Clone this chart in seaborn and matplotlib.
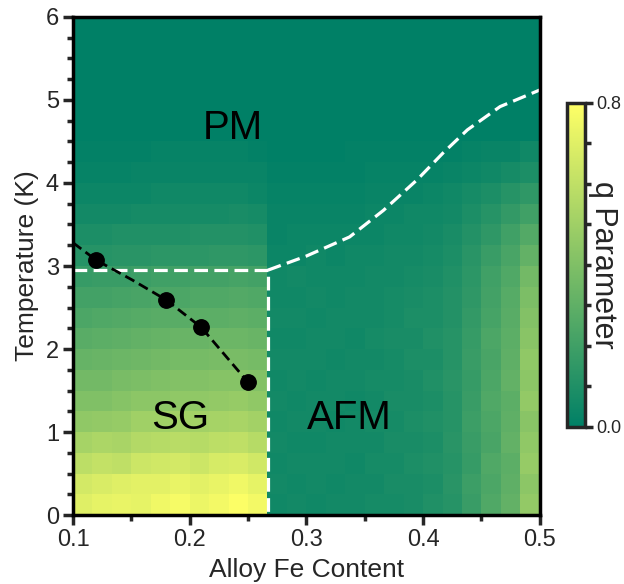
import numpy as np
import matplotlib
matplotlib.use("Agg")
import matplotlib.pyplot as plt
import seaborn as sns
from matplotlib.ticker import MultipleLocator, FormatStrFormatter

# q parameter map, in hundredths
# rows: temperature bins of 0.25 K from 0 K upward; cols: Fe content bins of 1/60 from 0.1
q_hundredths = [
    [70, 72, 73, 72, 75, 77, 74, 76, 79, 76, 5, 6, 5, 6, 6, 7, 7, 8, 10, 12, 18, 25, 31, 46],
    [66, 68, 70, 71, 71, 73, 71, 73, 75, 72, 6, 5, 6, 5, 6, 6, 8, 8, 9, 13, 19, 24, 30, 44],
    [59, 61, 60, 64, 65, 66, 64, 67, 68, 65, 5, 6, 6, 6, 5, 7, 7, 9, 10, 12, 17, 25, 29, 47],
    [52, 54, 53, 56, 57, 58, 57, 59, 60, 57, 6, 5, 5, 6, 6, 6, 8, 8, 9, 13, 18, 23, 31, 45],
    [45, 46, 47, 50, 50, 51, 51, 52, 53, 51, 5, 6, 6, 5, 6, 7, 7, 9, 10, 12, 19, 24, 30, 43],
    [40, 40, 42, 44, 44, 45, 45, 46, 47, 45, 6, 5, 6, 6, 5, 6, 8, 8, 9, 12, 18, 25, 29, 46],
    [36, 36, 38, 39, 40, 41, 41, 42, 42, 41, 5, 6, 5, 6, 6, 7, 7, 8, 10, 13, 17, 24, 31, 44],
    [32, 33, 34, 35, 36, 37, 37, 38, 38, 37, 6, 6, 6, 5, 6, 6, 7, 9, 9, 12, 18, 23, 30, 45],
    [28, 29, 30, 31, 32, 33, 33, 34, 34, 33, 5, 5, 6, 6, 5, 7, 8, 8, 10, 12, 17, 24, 29, 43],
    [24, 25, 26, 27, 28, 28, 29, 29, 30, 29, 6, 6, 5, 6, 6, 6, 7, 9, 9, 11, 16, 22, 28, 41],
    [21, 21, 22, 23, 24, 24, 25, 25, 26, 25, 5, 5, 6, 5, 6, 6, 7, 8, 9, 11, 15, 21, 27, 39],
    [17, 18, 18, 19, 20, 20, 21, 21, 22, 21, 5, 6, 5, 5, 5, 6, 6, 7, 8, 10, 14, 20, 25, 36],
    [12, 12, 13, 13, 14, 14, 14, 15, 15, 14, 4, 4, 5, 4, 5, 5, 6, 6, 7, 9, 13, 18, 23, 31],
    [9, 9, 10, 10, 10, 10, 11, 11, 11, 10, 3, 4, 4, 4, 4, 4, 5, 5, 6, 8, 11, 15, 20, 26],
    [6, 6, 6, 7, 7, 7, 7, 7, 8, 7, 3, 3, 3, 3, 3, 4, 4, 5, 5, 6, 9, 12, 16, 20],
    [4, 4, 4, 4, 5, 5, 5, 5, 5, 4, 2, 2, 2, 2, 2, 3, 3, 3, 4, 5, 7, 9, 12, 15],
    [2, 2, 2, 3, 3, 3, 3, 3, 3, 3, 1, 1, 1, 1, 1, 2, 2, 2, 2, 3, 4, 5, 7, 9],
    [1, 1, 1, 1, 2, 2, 2, 2, 2, 1, 0, 0, 0, 0, 1, 1, 1, 1, 1, 1, 2, 3, 3, 5],
    [0, 0, 0, 0, 0, 0, 0, 0, 0, 0, 0, 0, 0, 0, 0, 0, 0, 0, 0, 0, 0, 0, 0, 0],
    [0, 0, 0, 0, 0, 0, 0, 0, 0, 0, 0, 0, 0, 0, 0, 0, 0, 0, 0, 0, 0, 0, 0, 0],
    [0, 0, 0, 0, 0, 0, 0, 0, 0, 0, 0, 0, 0, 0, 0, 0, 0, 0, 0, 0, 0, 0, 0, 0],
    [0, 0, 0, 0, 0, 0, 0, 0, 0, 0, 0, 0, 0, 0, 0, 0, 0, 0, 0, 0, 0, 0, 0, 0],
    [0, 0, 0, 0, 0, 0, 0, 0, 0, 0, 0, 0, 0, 0, 0, 0, 0, 0, 0, 0, 0, 0, 0, 0],
    [0, 0, 0, 0, 0, 0, 0, 0, 0, 0, 0, 0, 0, 0, 0, 0, 0, 0, 0, 0, 0, 0, 0, 0],
]

# spin glass boundary (white box)
sg_box_fe = [0.1, 0.267, 0.267]
sg_box_t = [2.95, 2.95, 0.0]

# PM / AFM boundary (white curve)
neel_fe = [0.267, 0.30, 0.337, 0.366, 0.395, 0.417, 0.438, 0.466, 0.50]
neel_t = [2.95, 3.12, 3.35, 3.67, 4.04, 4.36, 4.64, 4.92, 5.12]

# freezing temperatures (black dots) and guide line
tf_fe = [0.12, 0.18, 0.21, 0.25]
tf_t = [3.07, 2.59, 2.26, 1.60]
guide_fe = [0.10, 0.12, 0.151, 0.18, 0.21, 0.23, 0.25]
guide_t = [3.28, 3.07, 2.83, 2.59, 2.26, 1.93, 1.60]

phase_labels = ["PM", "SG", "AFM"]
phase_fe = [0.237, 0.192, 0.337]
phase_t = [4.66, 1.17, 1.17]

sns.set_style("ticks")
plt.rcParams["font.family"] = ["Liberation Sans", "DejaVu Sans"]

fig = plt.figure(figsize=(6.24, 5.84), dpi=100)
ax = fig.add_axes([0.117, 0.118, 0.748, 0.853])
cax = fig.add_axes([0.909, 0.269, 0.029, 0.555])

q = np.array(q_hundredths) / 100.0
fe_edges = np.linspace(0.1, 0.5, q.shape[1] + 1)
t_edges = np.linspace(0.0, 6.0, q.shape[0] + 1)
mesh = ax.pcolormesh(fe_edges, t_edges, q, cmap="summer", vmin=0, vmax=0.8,
                     shading="flat", rasterized=True)

white_ls = (0, (4.3, 2.0))
sns.lineplot(x=sg_box_fe, y=sg_box_t, sort=False, estimator=None, color="white",
             lw=2.3, linestyle=white_ls, ax=ax)
sns.lineplot(x=neel_fe, y=neel_t, sort=False, estimator=None, color="white",
             lw=2.3, linestyle=white_ls, ax=ax)
sns.lineplot(x=guide_fe, y=guide_t, sort=False, estimator=None, color="black",
             lw=2.0, linestyle=(0, (3.7, 1.9)), ax=ax)
sns.scatterplot(x=tf_fe, y=tf_t, color="black", s=125, edgecolor="black",
                zorder=5, ax=ax)

for lab, xx, yy in zip(phase_labels, phase_fe, phase_t):
    ax.text(xx, yy, lab, fontsize=29, ha="center", va="center", color="black")

ax.set_xlim(0.1, 0.5)
ax.set_ylim(0, 6)
ax.xaxis.set_major_locator(MultipleLocator(0.1))
ax.xaxis.set_minor_locator(MultipleLocator(0.05))
ax.yaxis.set_major_locator(MultipleLocator(1))
ax.yaxis.set_minor_locator(MultipleLocator(0.25))
ax.xaxis.set_major_formatter(FormatStrFormatter("%.1f"))
ax.tick_params(which="major", direction="out", length=7, width=2.5,
               labelsize=17, top=False, right=False, pad=3)
ax.tick_params(which="minor", direction="out", length=4.5, width=2.5,
               top=False, right=False)
for sp in ax.spines.values():
    sp.set_visible(True)
    sp.set_linewidth(2.5)
    sp.set_color("black")
ax.set_xlabel("Alloy Fe Content", fontsize=19, labelpad=5)
ax.set_ylabel("Temperature (K)", fontsize=19, labelpad=5)

cb = fig.colorbar(mesh, cax=cax, ticks=[0.0, 0.8])
cb.ax.yaxis.set_minor_locator(MultipleLocator(0.1))
cb.ax.yaxis.set_major_formatter(FormatStrFormatter("%.1f"))
cb.ax.tick_params(which="major", length=6, width=2.5, labelsize=13, pad=2)
cb.ax.tick_params(which="minor", length=4.5, width=2.5)
cb.outline.set_linewidth(2.5)
cax.text(2.0, 0.5, "q Parameter", fontsize=22, rotation=-90, ha="center",
         va="center", transform=cax.transAxes)

fig.savefig("out.png", dpi=100)
